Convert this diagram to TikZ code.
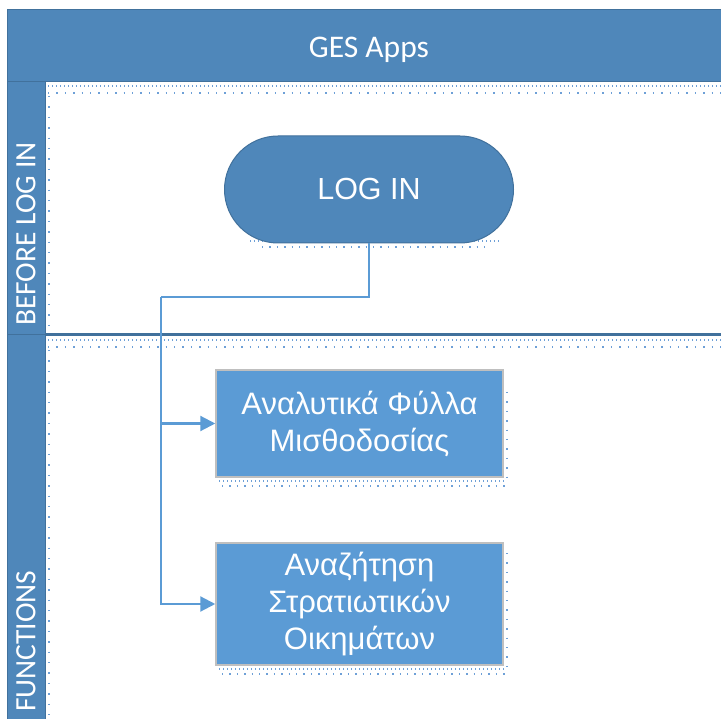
\documentclass[tikz,border=0pt]{standalone}
\usepackage{fontspec}
\setmainfont{Liberation Sans}
\newfontfamily\calib{Carlito}
\usetikzlibrary{shapes.misc,arrows.meta}
\definecolor{hdr}{RGB}{79,135,186}
\definecolor{hdrdark}{RGB}{65,113,156}
\definecolor{boxfill}{RGB}{91,155,213}
\definecolor{boxedge}{RGB}{191,191,191}
\definecolor{dotc}{RGB}{110,160,215}
\begin{document}
\begin{tikzpicture}[x=1pt,y=-1pt,
  lanehead/.style={fill=hdr,draw=hdrdark,line width=1pt},
  procbox/.style={draw=boxedge,line width=1.5pt,fill=boxfill,text=white,minimum width=287pt,align=center,font=\fontsize{31}{37}\selectfont,inner sep=0pt},
  termbox/.style={rounded rectangle,draw=hdrdark,line width=1pt,fill=hdr,text=white,minimum width=289pt,minimum height=107pt,font=\fontsize{30.5}{34}\selectfont,inner sep=0pt},
  conn/.style={draw=boxfill,line width=2.2pt},
  tip/.style={-{Triangle[length=15pt,width=15pt]}},
  dots/.style={draw=dotc,line width=1.4pt,dash pattern=on 1.4pt off 2.6pt},
  lanelabel/.style={text=white,font=\calib\fontsize{29.5}{31}\selectfont,rotate=90,inner sep=0pt}
]
\useasboundingbox (0,0) rectangle (721,719);
\fill[white] (0,0) rectangle (721,719);
% header
\path[lanehead] (7,10) rectangle (722,82);
\node[text=white,font=\calib\fontsize{31.5}{33}\selectfont] (title) at (369,50) {GES Apps};
% left column
\path[lanehead] (7,82) rectangle (45,720);
\draw[hdrdark,line width=1pt] (7,335) -- (45,335);
% lane divider
\draw[hdrdark,line width=3pt] (45,335) -- (722,335);
% dotted decorations
\draw[dots] (48,86) -- (721,86);
\draw[dots,dash pattern=on 1.4pt off 7pt] (48,93) -- (721,93);
\draw[dots] (48,340) -- (721,340);
\draw[dots,dash pattern=on 1.4pt off 7pt] (48,347) -- (721,347);
\draw[dots,dash pattern=on 1.4pt off 9pt] (49,96) -- (49,330);
\draw[dots,dash pattern=on 1.4pt off 9pt] (49,350) -- (49,715);
% lane labels
\node[lanelabel,anchor=west] (lane1) at (26,326) {BEFORE LOG IN};
\node[lanelabel,anchor=west] (lane2) at (26,712) {FUNCTIONS};
% shadows
\draw[dots] (250,241) -- (500,241);
\draw[dots,dash pattern=on 1.4pt off 6pt] (262,247) -- (490,247);
\draw[dots] (219,481) -- (506,481);
\draw[dots,dash pattern=on 1.4pt off 6pt] (222,486) -- (506,486);
\draw[dots,dash pattern=on 1.4pt off 8pt] (507,392) -- (507,478);
\draw[dots] (219,669) -- (506,669);
\draw[dots,dash pattern=on 1.4pt off 6pt] (222,674) -- (506,674);
\draw[dots,dash pattern=on 1.4pt off 8pt] (507,553) -- (507,666);
% nodes
\node[termbox] (login) at (369,189.5) {LOG IN};
\node[procbox,minimum height=107pt] (b1) at (359.5,423.5) {Αναλυτικά Φύλλα\\Μισθοδοσίας};
\node[procbox,minimum height=122pt] (b2) at (359.5,604) {Αναζήτηση\\Στρατιωτικών\\Οικημάτων};
% connectors
\coordinate (j1) at (161,297);
\draw[conn] (login.south) |- (j1);
\draw[conn,tip] (j1) |- (b1.west);
\draw[conn,tip] (j1) |- (b2.west);
\end{tikzpicture}
\end{document}
